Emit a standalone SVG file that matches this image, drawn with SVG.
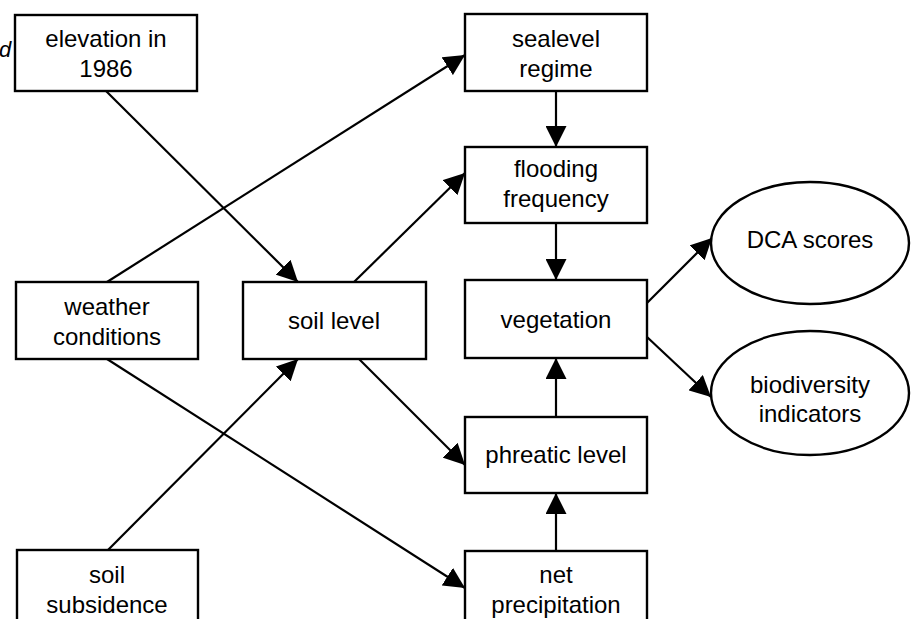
<svg xmlns="http://www.w3.org/2000/svg" width="912" height="619" viewBox="0 0 912 619">
<style>
.box{fill:#fff;stroke:#000;stroke-width:2.4}
.t{font-family:"Liberation Sans",Arial,sans-serif;font-size:24px;fill:#000;text-anchor:middle}
.c{stroke:#000;stroke-width:2.2;fill:none;marker-end:url(#ah)}
</style>
<defs>
<marker id="ah" markerUnits="userSpaceOnUse" markerWidth="21" markerHeight="21" refX="21" refY="10.5" orient="auto" viewBox="0 0 21 21">
<path d="M0,0 L21,10.5 L0,21 z" fill="#000"/>
</marker>
</defs>
<rect width="912" height="619" fill="#fff"/>
<text x="-1" y="57" style="font-family:'Liberation Sans',Arial,sans-serif;font-size:22px;font-style:italic">d</text>
<g id="connectors">
<line class="c" x1="106" y1="91" x2="298" y2="282"/>
<line class="c" x1="107" y1="282" x2="465" y2="55"/>
<line class="c" x1="107" y1="359" x2="465" y2="588"/>
<line class="c" x1="108" y1="550" x2="298" y2="359"/>
<line class="c" x1="354" y1="282" x2="465" y2="173"/>
<line class="c" x1="359" y1="359" x2="465" y2="465"/>
<line class="c" x1="556" y1="91" x2="556" y2="147"/>
<line class="c" x1="556" y1="223" x2="556" y2="280"/>
<line class="c" x1="556" y1="417" x2="556" y2="358"/>
<line class="c" x1="556" y1="551" x2="556" y2="493"/>
<line class="c" x1="647" y1="303" x2="712" y2="238"/>
<line class="c" x1="647" y1="337" x2="711" y2="397"/>
</g>
<g id="elevation">
<rect class="box" x="15" y="15" width="182" height="76"/>
<text class="t" x="106" y="47">elevation in</text>
<text class="t" x="106" y="77">1986</text>
</g>
<g id="weather">
<rect class="box" x="16" y="282" width="182" height="77"/>
<text class="t" x="107" y="315">weather</text>
<text class="t" x="107" y="345">conditions</text>
</g>
<g id="subsidence">
<rect class="box" x="17" y="550" width="181" height="78"/>
<text class="t" x="107" y="583">soil</text>
<text class="t" x="107" y="613">subsidence</text>
</g>
<g id="soillevel">
<rect class="box" x="243" y="282" width="183" height="77"/>
<text class="t" x="334" y="329">soil level</text>
</g>
<g id="sealevel">
<rect class="box" x="465" y="14" width="182" height="77"/>
<text class="t" x="556" y="47">sealevel</text>
<text class="t" x="556" y="77">regime</text>
</g>
<g id="flooding">
<rect class="box" x="465" y="147" width="182" height="76"/>
<text class="t" x="556" y="177">flooding</text>
<text class="t" x="556" y="207">frequency</text>
</g>
<g id="vegetation">
<rect class="box" x="465" y="280" width="182" height="78"/>
<text class="t" x="556" y="328">vegetation</text>
</g>
<g id="phreatic">
<rect class="box" x="465" y="417" width="182" height="76"/>
<text class="t" x="556" y="463">phreatic level</text>
</g>
<g id="netprecip">
<rect class="box" x="465" y="551" width="182" height="78"/>
<text class="t" x="556" y="583">net</text>
<text class="t" x="556" y="613">precipitation</text>
</g>
<g id="dca">
<ellipse class="box" cx="810" cy="243" rx="99" ry="61"/>
<text class="t" x="810" y="248">DCA scores</text>
</g>
<g id="biodiversity">
<ellipse class="box" cx="810" cy="393" rx="99" ry="62"/>
<text class="t" x="810" y="393">biodiversity</text>
<text class="t" x="810" y="422">indicators</text>
</g>
</svg>
